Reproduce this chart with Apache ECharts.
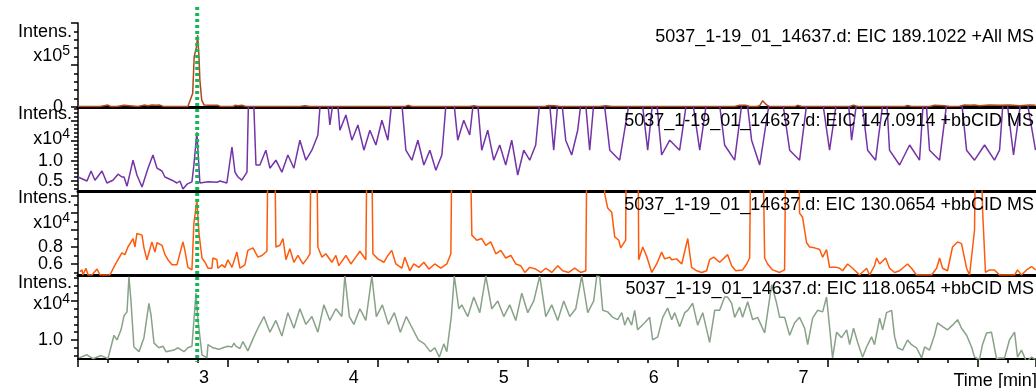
<!DOCTYPE html>
<html>
<head>
<meta charset="utf-8">
<script src="https://cdn.jsdelivr.net/npm/echarts@6/dist/echarts.min.js"></script>
<style>
  html, body { margin: 0; padding: 0; background: #ffffff; }
  #chart { width: 1036px; height: 388px; }
</style>
</head>
<body>
<div id="chart"></div>
<script>
// Retention time window (min) and axis ticks
const timeMin = 2.16;
const timeMax = 8.55;
const timeLabelValues = [3, 4, 5, 6, 7];
const timeUnitLabelAt = 8;
const timeUnitLabel = 'Time [min]';
const markerTime = 2.955;

// Trace captions
const traceTitles = [
  '5037_1-19_01_14637.d: EIC 189.1022 +All MS',
  '5037_1-19_01_14637.d: EIC 147.0914 +bbCID MS',
  '5037_1-19_01_14637.d: EIC 130.0654 +bbCID MS',
  '5037_1-19_01_14637.d: EIC 118.0654 +bbCID MS'
];
const intensityExponents = [5, 4, 4, 4];

// Intensity ranges (scaled units) and y tick values
const yRanges = [[0, 2.0], [0.25, 2.35], [0.47, 1.46], [0.756, 1.82]];
// labels are split over two axes per panel so neighbouring labels never get culled
const yLabelValues = [[0], [1.0], [0.8], [1.0]];
const yLabelValuesLow = [[], [0.5], [0.6], []];
const yMajorTicks = [[0, 1.0, 2.0], [0.5, 1.0, 1.5, 2.0], [0.6, 0.8, 1.0, 1.2, 1.4], [1.0, 1.5]];
const yMinorTicks = [
  [0.2, 0.4, 0.6, 0.8, 1.2, 1.4, 1.6, 1.8],
  [0.3, 0.4, 0.6, 0.7, 0.8, 0.9, 1.1, 1.2, 1.3, 1.4, 1.6, 1.7, 1.8, 1.9, 2.1, 2.2, 2.3],
  [0.5, 0.7, 0.9, 1.1, 1.3],
  [0.8, 0.9, 1.1, 1.2, 1.3, 1.4, 1.6, 1.7, 1.8]
];

// EIC 189.1022 (x10^5)
const eic189 = [
  [2.16,0.01],[2.307,0.01],[2.32,0.045],[2.36,0.045],[2.38,0.01],[2.42,0.01],[2.433,0.045],[2.467,0.04],[2.48,0.01],
  [2.56,0.01],[2.573,0.035],[2.60,0.045],[2.627,0.03],[2.653,0.045],[2.68,0.04],[2.707,0.045],[2.733,0.01],
  [2.893,0.01],[2.925,0.33],[2.935,1.2],[2.951,1.44],[2.958,1.71],[2.967,1.2],[2.973,0.64],[2.985,0.17],[3.0,0.05],
  [3.04,0.04],[3.093,0.04],[3.113,0.01],[3.193,0.01],[3.207,0.04],[3.227,0.03],[3.253,0.04],[3.28,0.01],
  [3.64,0.01],[3.673,0.03],[3.707,0.01],[4.34,0.01],[4.36,0.04],[4.387,0.01],[4.773,0.01],[4.8,0.03],[4.827,0.01],
  [5.273,0.01],[5.3,0.035],[5.34,0.03],[5.373,0.01],[5.64,0.01],[5.68,0.03],[5.72,0.01],
  [6.54,0.01],[6.573,0.04],[6.613,0.04],[6.64,0.01],[6.687,0.01],[6.707,0.03],[6.727,0.15],[6.753,0.05],[6.773,0.01],
  [6.94,0.01],[6.96,0.04],[6.987,0.01],[7.307,0.01],[7.333,0.04],[7.36,0.01],[7.673,0.01],[7.693,0.035],[7.72,0.01],
  [7.84,0.01],[7.873,0.04],[7.94,0.03],[7.973,0.01],[8.04,0.02],[8.073,0.05],[8.107,0.04],[8.14,0.05],[8.173,0.03],
  [8.24,0.05],[8.307,0.04],[8.373,0.05],[8.44,0.03],[8.507,0.05],[8.547,0.04]
];

// EIC 147.0914 (x10^4)
const eic147 = [
  [2.16,0.6],[2.22,0.5],[2.247,0.75],[2.273,0.52],[2.32,0.75],[2.353,0.45],[2.393,0.52],[2.427,0.67],[2.453,0.6],
  [2.467,0.6],[2.487,0.37],[2.527,1.02],[2.553,0.65],[2.587,0.35],[2.627,0.82],[2.66,1.15],[2.687,0.82],[2.72,0.75],
  [2.74,0.6],[2.787,0.52],[2.82,0.45],[2.84,0.5],[2.86,0.3],[2.887,0.42],[2.92,0.48],[2.933,0.9],[2.953,1.72],
  [2.973,0.45],[3.027,0.48],[3.087,0.47],[3.107,0.5],[3.153,0.45],[3.187,1.35],[3.207,0.72],[3.227,0.6],[3.253,0.52],
  [3.287,0.72],[3.3,3.0],[3.327,3.0],[3.347,0.9],[3.36,0.95],
  [3.373,0.9],[3.413,1.27],[3.44,0.82],[3.48,1.02],[3.52,0.72],[3.56,1.15],[3.6,0.82],[3.64,1.52],[3.68,1.02],
  [3.72,1.27],[3.76,1.65],[3.787,3.0],[3.813,3.0],[3.84,1.9],[3.88,3.0],[3.907,1.77],[3.947,2.15],[3.987,1.52],
  [4.027,1.9],[4.067,1.27],[4.107,1.77],[4.147,1.4],[4.187,2.02],[4.227,1.52],[4.267,3.0],[4.307,3.0],[4.347,1.27],
  [4.387,1.02],[4.427,1.52],[4.467,0.9],[4.507,1.27],[4.547,0.77],[4.587,1.15],[4.627,3.0],[4.653,3.0],[4.693,1.52],
  [4.733,2.02],[4.773,1.65],[4.813,3.0],[4.853,1.27],[4.893,1.77],[4.933,1.02],[4.973,1.4],[5.013,0.9],[5.053,1.52],
  [5.093,0.65],[5.133,1.27],[5.173,1.02],[5.213,1.4],[5.253,3.0],[5.293,3.0],[5.333,1.27],[5.373,3.0],[5.413,1.52],
  [5.453,1.15],[5.493,1.77],[5.533,3.0],[5.573,1.27],[5.613,3.0],[5.653,3.0],[5.707,1.27],[5.773,1.02],[5.86,3.0],
  [5.907,3.0],[5.96,1.27],[6.007,3.0],[6.053,1.15],[6.107,1.52],[6.173,1.27],[6.24,3.0],[6.307,1.27],[6.373,3.0],
  [6.42,3.0],[6.473,1.4],[6.54,1.02],[6.607,3.0],[6.653,1.52],[6.707,0.9],[6.793,3.0],[6.84,3.0],[6.907,1.27],
  [6.973,1.02],[7.04,3.0],[7.107,3.0],[7.173,1.27],[7.24,3.0],[7.287,3.0],[7.32,1.52],[7.373,3.0],[7.427,1.27],
  [7.48,1.02],[7.547,3.0],[7.573,1.27],[7.64,0.9],[7.707,1.4],[7.773,1.02],[7.807,3.0],[7.84,1.27],[7.907,1.02],
  [7.973,3.0],[8.04,3.0],[8.087,1.27],[8.14,1.02],[8.207,1.4],[8.273,1.02],[8.307,1.27],[8.34,3.0],[8.4,1.15],
  [8.467,3.0],[8.547,1.27]
];

// EIC 130.0654 (x10^4)
const eic130 = [
  [2.173,0.51],[2.187,0.53],[2.193,0.47],[2.213,0.55],[2.227,0.47],[2.253,0.47],[2.287,0.54],[2.307,0.47],[2.373,0.47],
  [2.407,0.59],[2.427,0.65],[2.453,0.73],[2.473,0.71],[2.493,0.8],[2.527,0.9],[2.54,0.8],[2.553,0.96],[2.587,0.94],
  [2.6,0.79],[2.62,0.65],[2.653,0.86],[2.673,0.74],[2.687,0.85],[2.72,0.82],[2.74,0.71],[2.76,0.65],[2.787,0.59],
  [2.82,0.59],[2.86,0.86],[2.873,0.76],[2.893,0.56],[2.92,0.53],[2.933,1.08],[2.953,1.35],[2.967,0.96],[2.987,0.67],
  [3.007,0.62],[3.027,0.55],[3.053,0.55],[3.06,0.67],[3.087,0.65],[3.093,0.55],[3.12,0.59],[3.14,0.56],[3.16,0.65],
  [3.187,0.56],[3.22,0.74],[3.24,0.55],[3.273,0.59],[3.293,0.76],[3.327,0.79],[3.36,0.68],
  [3.387,0.7],[3.42,0.75],[3.433,3.0],[3.467,3.0],[3.48,0.8],[3.507,0.82],[3.527,0.9],[3.547,0.65],[3.573,0.78],
  [3.6,0.62],[3.627,0.7],[3.66,0.6],[3.687,0.66],[3.707,0.72],[3.72,3.0],[3.747,3.0],[3.76,0.8],[3.787,0.68],
  [3.813,0.72],[3.853,0.62],[3.88,0.7],[3.9,0.58],[3.947,0.7],[3.98,0.6],[4.013,0.68],[4.04,0.75],[4.08,0.65],
  [4.093,3.0],[4.113,3.0],[4.127,0.72],[4.16,0.66],[4.2,0.62],[4.227,0.7],[4.253,0.76],[4.28,0.6],[4.32,0.55],
  [4.34,0.68],[4.373,0.52],[4.4,0.6],[4.433,0.56],[4.467,0.62],[4.5,0.54],[4.54,0.6],[4.58,0.55],[4.62,0.6],
  [4.647,0.72],[4.66,3.0],[4.767,3.0],[4.787,0.94],[4.82,0.88],[4.853,0.9],[4.88,0.82],[4.913,0.86],[4.947,0.72],
  [4.98,0.76],[5.013,0.67],[5.047,0.7],[5.08,0.6],[5.113,0.58],[5.14,0.5],[5.173,0.56],[5.213,0.54],[5.247,0.5],
  [5.28,0.55],[5.32,0.5],[5.36,0.58],[5.393,0.52],[5.433,0.5],[5.473,0.55],[5.513,0.5],[5.547,0.52],[5.56,3.0],
  [5.667,3.0],[5.673,1.43],[5.693,1.26],[5.72,1.21],[5.74,0.92],[5.767,0.88],[5.78,0.79],[5.813,0.88],[5.82,3.0],
  [5.893,3.0],[5.9,0.65],[5.927,0.8],[5.953,0.69],[5.987,0.5],[6.02,0.6],[6.053,0.74],[6.073,0.66],[6.107,0.68],
  [6.12,0.65],[6.153,0.66],[6.187,0.6],[6.227,0.9],[6.253,0.56],[6.287,0.52],[6.32,0.5],[6.353,0.52],[6.373,0.65],
  [6.4,0.68],[6.44,0.62],[6.493,0.71],[6.52,0.58],[6.547,0.52],[6.593,0.53],[6.62,0.6],[6.64,0.67],[6.653,3.0],
  [6.72,3.0],[6.74,0.67],[6.76,0.6],[6.793,0.53],[6.84,0.5],[6.873,0.53],[6.887,3.0],[6.96,3.0],[6.973,1.2],
  [6.993,1.15],[7.02,0.85],[7.04,0.8],[7.073,0.79],[7.107,0.77],[7.127,0.68],[7.153,0.77],[7.173,0.56],[7.22,0.56],
  [7.24,0.55],[7.26,0.52],[7.293,0.6],[7.327,0.55],[7.373,0.47],[7.42,0.55],[7.44,0.47],[7.473,0.58],[7.487,0.67],
  [7.507,0.6],[7.547,0.67],[7.573,0.55],[7.607,0.5],[7.64,0.52],[7.693,0.6],[7.72,0.55],[7.753,0.47],[7.82,0.47],
  [7.853,0.47],[7.887,0.55],[7.907,0.67],[7.927,0.55],[7.96,0.52],[7.993,0.8],[8.027,0.86],[8.053,0.84],[8.087,0.55],
  [8.107,0.47],[8.14,1.0],[8.153,3.0],[8.173,3.0],[8.193,1.26],[8.213,0.5],[8.24,0.53],[8.273,0.53],[8.307,0.47],
  [8.407,0.47],[8.427,0.53],[8.453,0.47],[8.487,0.53],[8.52,0.57],[8.547,0.53]
];

// EIC 118.0654 (x10^4)
const eic118 = [
  [2.167,0.77],[2.22,0.81],[2.233,0.83],[2.26,0.76],[2.313,0.8],[2.36,0.76],[2.4,1.06],[2.42,1.0],[2.447,1.13],
  [2.467,1.31],[2.487,1.36],[2.5,1.81],[2.513,1.51],[2.533,0.91],[2.567,0.85],[2.6,1.03],[2.633,1.47],[2.647,1.32],
  [2.667,0.96],[2.7,0.9],[2.727,0.92],[2.747,0.85],[2.8,0.87],[2.827,0.9],[2.84,0.88],[2.867,0.85],[2.893,0.9],
  [2.92,0.92],[2.947,1.6],[2.96,1.26],[2.987,0.81],[3.02,0.77],[3.027,0.94],[3.06,0.9],[3.1,0.88],[3.127,0.9],
  [3.16,0.92],[3.187,0.91],[3.2,0.96],[3.213,0.92],[3.24,0.89],[3.26,0.98],[3.293,0.86],[3.333,1.04],[3.36,1.15],
  [3.4,1.3],[3.44,1.1],[3.48,1.25],[3.52,1.05],[3.56,1.35],[3.6,1.15],[3.64,1.4],[3.68,1.2],[3.72,1.3],[3.76,1.1],
  [3.8,1.45],[3.84,1.25],[3.88,1.4],[3.92,1.3],[3.94,1.82],[3.97,1.3],[4.0,1.2],[4.04,1.4],[4.08,1.25],[4.12,1.82],
  [4.15,1.3],[4.19,1.45],[4.23,1.2],[4.27,1.35],[4.31,1.1],[4.35,1.3],[4.39,1.15],[4.43,1.0],[4.47,0.95],[4.51,0.85],
  [4.54,0.9],[4.57,0.78],[4.6,0.95],[4.62,0.85],[4.65,1.3],[4.67,1.82],[4.7,1.4],[4.72,1.45],[4.76,1.3],[4.8,1.55],
  [4.84,1.35],[4.88,1.82],[4.92,1.4],[4.96,1.5],
  [5.0,1.3],[5.04,1.45],[5.08,1.25],[5.12,1.6],[5.16,1.35],[5.2,1.5],[5.24,1.82],[5.28,1.3],[5.32,1.45],[5.36,1.25],
  [5.4,1.5],[5.44,1.3],[5.48,1.4],[5.52,1.82],[5.56,1.35],[5.6,1.5],[5.62,1.82],
  [5.64,1.81],[5.66,1.38],[5.693,1.36],[5.727,1.29],[5.76,1.26],[5.787,1.35],[5.807,1.19],[5.827,1.29],[5.853,1.19],
  [5.873,1.38],[5.893,1.13],[5.94,1.22],[5.973,1.29],[5.993,1.0],[6.027,1.04],[6.06,1.29],[6.093,1.41],[6.12,1.26],
  [6.14,1.35],[6.173,1.17],[6.207,1.35],[6.227,1.38],[6.26,1.47],[6.293,1.19],[6.327,1.35],[6.373,0.97],[6.407,1.38],
  [6.44,1.38],[6.473,1.55],[6.493,1.55],[6.52,1.47],[6.54,1.29],[6.573,1.42],[6.593,1.29],[6.627,1.49],[6.66,1.26],
  [6.693,1.29],[6.74,1.09],[6.787,1.71],[6.82,1.47],[6.84,1.29],[6.873,1.29],[6.907,1.06],[6.94,1.22],[6.973,1.29],
  [7.007,1.15],[7.027,0.94],[7.06,1.28],[7.093,1.38],[7.127,1.36],[7.153,1.55],[7.173,1.17],[7.193,0.77],[7.22,1.1],
  [7.253,1.03],[7.287,1.13],[7.307,0.94],[7.333,1.15],[7.36,0.97],[7.393,0.78],[7.42,0.91],[7.453,1.04],[7.473,0.94],
  [7.507,1.28],[7.527,1.13],[7.553,1.35],[7.587,1.38],[7.607,1.04],[7.627,0.9],[7.66,0.87],[7.693,1.0],[7.72,0.94],
  [7.753,0.9],[7.787,0.77],[7.807,0.91],[7.84,0.87],[7.873,1.06],[7.893,1.22],[7.927,1.17],[7.96,1.13],[7.993,1.19],
  [8.027,1.26],[8.053,1.15],[8.087,1.06],[8.12,0.91],[8.14,0.78],[8.173,0.75],[8.193,0.94],[8.22,1.09],[8.253,1.1],
  [8.287,0.76],[8.307,0.77],[8.34,0.77],[8.373,1.0],[8.407,1.1],[8.427,0.78],[8.453,0.87],[8.487,0.72],[8.52,0.78],
  [8.547,0.75]
];

const traces = [eic189, eic147, eic130, eic118];
const traceColors = ['#b0481c', '#7433a6', '#ff5a0a', '#88a288'];

// Panel geometry (px)
const panelLeft = 78;
const panelTops = [23, 107, 191, 276];
const panelHeights = [84, 84, 84, 83];

const fontFamily = '"Liberation Sans", Arial, sans-serif';
const chart = echarts.init(document.getElementById('chart'), null, { renderer: 'canvas' });

const yLabelStyle = values => ({
  show: values.length > 0, customValues: values, margin: 15, color: '#000', fontSize: 18, fontFamily,
  showMinLabel: true, showMaxLabel: true, hideOverlap: false,
  formatter: v => (v === 0 ? '0' : v.toFixed(1))
});

const grids = [], xAxes = [], yAxes = [], series = [];
traces.forEach((data, i) => {
  const isLast = i === traces.length - 1;
  grids.push({ left: panelLeft, right: 0, top: panelTops[i], height: panelHeights[i], containLabel: false });
  xAxes.push({
    type: 'value', gridIndex: i, min: timeMin, max: timeMax, position: 'bottom',
    axisLine: { show: true, onZero: false, lineStyle: { color: '#000', width: isLast ? 2 : 3 } },
    axisTick: isLast ? { show: true, length: 8, lineStyle: { color: '#000', width: 1.5 } } : { show: false },
    minorTick: isLast ? { show: true, splitNumber: 5, length: 4, lineStyle: { color: '#000', width: 1.5 } } : { show: false },
    axisLabel: isLast ? {
      show: true, customValues: timeLabelValues, margin: 10, color: '#000', fontSize: 18, fontFamily,
      showMinLabel: true, showMaxLabel: true
    } : { show: false },
    interval: 1,
    splitLine: { show: false }
  });
  const [ymin, ymax] = yRanges[i];
  yAxes.push({
    type: 'value', gridIndex: i, min: ymin, max: ymax, position: 'left',
    axisLine: { show: true, onZero: false, lineStyle: { color: '#000', width: 1.5 } },
    axisTick: { show: true, length: 7, customValues: yMajorTicks[i], lineStyle: { color: '#000', width: 1.5 } },
    axisLabel: yLabelStyle(yLabelValues[i]),
    splitLine: { show: false }
  });
  yAxes.push({
    type: 'value', gridIndex: i, min: ymin, max: ymax, position: 'left',
    axisLine: { show: false },
    axisTick: { show: true, length: 4, customValues: yMinorTicks[i], lineStyle: { color: '#000', width: 1.5 } },
    axisLabel: yLabelStyle(yLabelValuesLow[i]),
    splitLine: { show: false }
  });
  series.push({
    type: 'line', xAxisIndex: i, yAxisIndex: 2 * i, data,
    showSymbol: false, symbol: 'none', clip: true, animation: false,
    lineStyle: { color: traceColors[i], width: 1.5 }, z: 2
  });
});
// thin frame line across the top of the first panel
xAxes.push({
  type: 'value', gridIndex: 0, min: timeMin, max: timeMax, position: 'top',
  axisLine: { show: true, lineStyle: { color: '#000', width: 1 } },
  axisTick: { show: false }, axisLabel: { show: false }, splitLine: { show: false }
});

chart.setOption({
  animation: false,
  backgroundColor: '#fff',
  grid: grids, xAxis: xAxes, yAxis: yAxes, series
});

// Text blocks and marker placed with the library's coordinate conversion
const markerX = chart.convertToPixel({ xAxisIndex: 0 }, markerTime);
const unitX = chart.convertToPixel({ xAxisIndex: 3 }, timeUnitLabelAt);
const graphics = [];
traces.forEach((d, i) => {
  const top = panelTops[i];
  graphics.push({
    type: 'text', right: 2, top: top + 5 - (i === 3 ? 1 : 0), z: 10,
    style: { text: traceTitles[i], fill: '#000', font: `18px ${fontFamily}` }
  });
  graphics.push({
    type: 'text', x: 72, y: top + (i === 0 ? 9 : 7), z: 10,
    style: { text: 'Intens.', fill: '#000', font: `18px ${fontFamily}`, align: 'right', verticalAlign: 'middle' }
  });
  graphics.push({
    type: 'text', x: 70, y: top + (i === 0 ? 33 : (i === 3 ? 28 : 32)), z: 10,
    style: {
      text: `{b|x10}{s|${intensityExponents[i]}}`, align: 'right', verticalAlign: 'middle',
      rich: {
        b: { fontSize: 18, fontFamily, fill: '#000' },
        s: { fontSize: 14, fontFamily, fill: '#000', padding: [0, 0, 10, 0] }
      }
    }
  });
});
graphics.push({
  type: 'text', x: unitX, y: 381, z: 10,
  style: { text: timeUnitLabel, fill: '#000', font: `18px ${fontFamily}`, align: 'left', verticalAlign: 'middle' }
});
graphics.push({
  type: 'line', z: 20,
  shape: { x1: markerX, y1: 7, x2: markerX, y2: 362 },
  style: { stroke: '#14b85a', lineWidth: 4, lineDash: [3, 3] }
});
chart.setOption({ graphic: graphics });
</script>
</body>
</html>
